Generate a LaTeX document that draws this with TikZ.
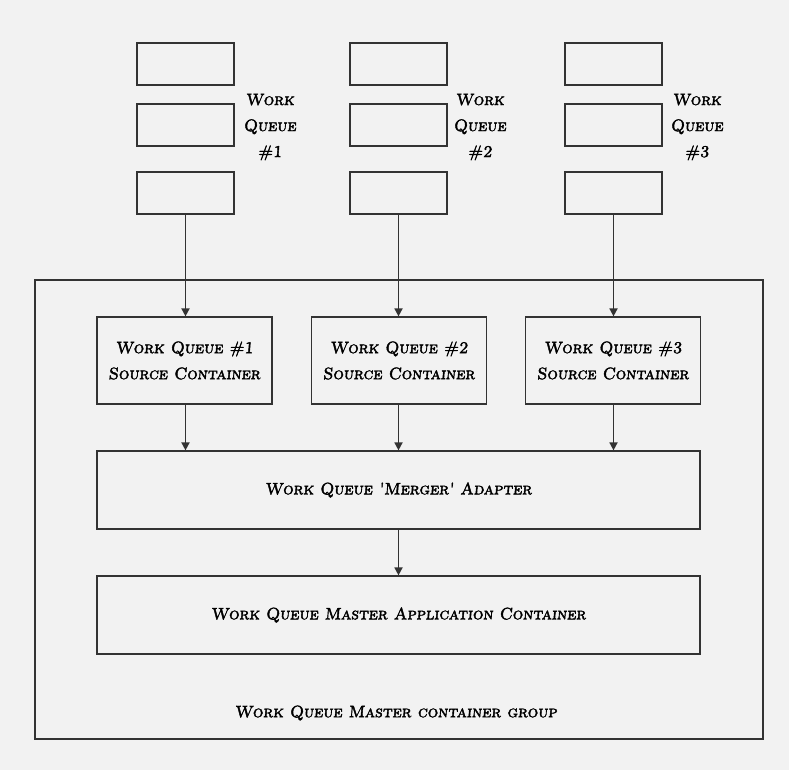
\documentclass[tikz,border=0pt]{standalone}
\usepackage{fontspec}
\newfontfamily\handfont{lmromancaps10-regular}[Extension=.otf, FakeBold=2.5, FakeSlant=0.08]
\usetikzlibrary{arrows.meta}
\definecolor{bg}{HTML}{F2F2F2}
\definecolor{ln}{HTML}{333333}
\tikzset{
  box/.style={draw=ln, line width=1.2pt, fill=bg, inner sep=0pt},
  txt/.style={font=\fontsize{16.5}{26}\selectfont\handfont, text=black, align=center},
  arr/.style={draw=ln, line width=1.7pt, -{Triangle[length=8pt,width=8pt]}},
}
\begin{document}
\begin{tikzpicture}[x=1pt,y=-1pt]
\fill[bg] (0,0) rectangle (789,770);
\useasboundingbox (0,0) rectangle (789,770);
% group
\node[box, minimum width=728pt, minimum height=459pt] (grp) at (399,509.5) {};
\node[txt] (grpl) at (396,713) {Work Queue Master container group};
% top queue boxes
\foreach \c/\x in {1/185.5, 2/398.5, 3/613.5}{
  \node[box, minimum width=97pt, minimum height=42pt] (q\c a) at (\x,64) {};
  \node[box, minimum width=97pt, minimum height=42pt] (q\c b) at (\x,125) {};
  \node[box, minimum width=97pt, minimum height=42pt] (q\c c) at (\x,193) {};
}
\node[txt] (l1) at (270,127) {Work\\Queue\\\#1};
\node[txt] (l2) at (480,127) {Work\\Queue\\\#2};
\node[txt] (l3) at (697,127) {Work\\Queue\\\#3};
% source containers
\node[box, txt, minimum width=175pt, minimum height=87pt] (s1) at (184.5,360.5) {Work Queue \#1\\Source Container};
\node[box, txt, minimum width=175pt, minimum height=87pt] (s2) at (399,360.5) {Work Queue \#2\\Source Container};
\node[box, txt, minimum width=175pt, minimum height=87pt] (s3) at (613,360.5) {Work Queue \#3\\Source Container};
% merger and app
\node[box, txt, minimum width=603pt, minimum height=78pt] (m) at (398.5,490) {Work Queue 'Merger' Adapter};
\node[box, txt, minimum width=603pt, minimum height=78pt] (app) at (398.5,615) {Work Queue Master Application Container};
% arrows
\foreach \c in {1,2,3}{
  \draw[arr] (q\c c.south) -- (q\c c.south |- s\c.north);
  \draw[arr] (q\c c.south |- s\c.south) -- (q\c c.south |- m.north);
}
\draw[arr] (m.south) -- (app.north);
\end{tikzpicture}
\end{document}
